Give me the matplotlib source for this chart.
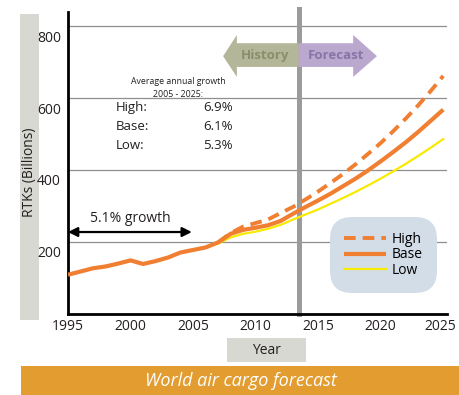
import matplotlib
matplotlib.use('Agg')
import matplotlib.pyplot as plt
import matplotlib.transforms as mtransforms
from matplotlib.patches import Rectangle, Polygon

plt.rcParams['font.family'] = ['Open Sans', 'DejaVu Sans']

# RTKs in billions
years = list(range(1995, 2026))
base = [108, 117, 126, 131, 139, 148, 138, 146, 156, 170, 177, 184, 198,
        222, 233, 239, 246, 258, 278,
        297, 315, 334, 355, 376, 399, 424, 450, 477, 506, 537, 568]
split_years = list(range(2007, 2026))
high = [198, 224, 242, 252, 262, 280, 297,
        318, 340, 364, 389, 416, 445, 475, 508, 543, 580, 620, 662]
low = [195, 212, 222, 228, 236, 247, 262,
       276, 290, 306, 322, 339, 357, 376, 396, 417, 439, 462, 486]

growth_labels = ['High:', 'Base:', 'Low:']
growth_rates = ['6.9%', '6.1%', '5.3%']
forecast_start = 2013.45

ORANGE = '#f07f32'
YELLOW = '#f8ea00'
BAND = '#d8d8d3'
TXT = '#231f20'
W, H = 459, 395


def px_rect(x0, y0, x1, y1, **kw):
    # rectangle given in pixel coords measured from the top-left
    return Rectangle((x0 / W, 1 - y1 / H), (x1 - x0) / W, (y1 - y0) / H,
                     transform=fig.transFigure, **kw)


fig = plt.figure(figsize=(W / 100, H / 100), dpi=100)
ax = fig.add_axes([68 / W, 1 - 313.5 / H, (447 - 68) / W, (313.5 - 12) / H])

# grey side band, year box and the title bar
fig.add_artist(px_rect(20, 14, 39, 320, color=BAND, lw=0, zorder=-1))
fig.add_artist(px_rect(227, 338, 306, 362, color=BAND, lw=0, zorder=-1))
fig.add_artist(px_rect(21, 366, W, H, color='#e29c2f', lw=0, zorder=-1))
fig.text(30 / W, 1 - 172 / H, 'RTKs (Billions)', rotation=90, ha='center', va='center',
         fontsize=10, color=TXT)
fig.text(266 / W, 1 - 350 / H, 'Year', ha='center', va='center', fontsize=10, color=TXT)
fig.text(241 / W, 1 - 381 / H, 'World air cargo forecast', ha='center', va='center',
         fontsize=13, style='italic', color='white')

ax.set_xlim(1995, 2025.3)
ax.set_ylim(0, 840)
ax.set_xticks([1995, 2000, 2005, 2010, 2015, 2020, 2025])
ax.set_yticks([200, 400, 600, 800])
ax.tick_params(length=0, labelsize=10, colors=TXT)
ax.tick_params(axis='x', pad=4)
ax.tick_params(axis='y', pad=5)
ax.yaxis.grid(True, color='#8f8f8f', lw=0.9)
ax.set_axisbelow(True)
for s in ['top', 'right']:
    ax.spines[s].set_visible(False)
for s in ['left', 'bottom']:
    ax.spines[s].set_linewidth(2)
    ax.spines[s].set_color('black')

# y labels sit a little under their gridlines
offset = mtransforms.ScaledTranslation(0, -10 / 100, fig.dpi_scale_trans)
for lbl in ax.get_yticklabels():
    lbl.set_transform(lbl.get_transform() + offset)
# keep the last year label inside the figure
xoff = mtransforms.ScaledTranslation(-3 / 100, 0, fig.dpi_scale_trans)
ax.get_xticklabels()[-1].set_transform(ax.get_xticklabels()[-1].get_transform() + xoff)

ax.axvline(forecast_start, color='#9b9b9b', lw=3.6, zorder=1, ymax=1.01, clip_on=False)

# history / forecast arrows
ax.add_patch(Polygon([(2007.4, 717), (2008.5, 776), (2008.5, 753), (forecast_start, 753),
                      (forecast_start, 687), (2008.5, 687), (2008.5, 659)],
                     closed=True, color='#b4b699', lw=0, zorder=2))
ax.add_patch(Polygon([(forecast_start, 753), (2017.8, 753), (2017.8, 776), (2019.7, 717),
                      (2017.8, 659), (2017.8, 687), (forecast_start, 687)],
                     closed=True, color='#baa8cf', lw=0, zorder=2))
ax.text(2010.75, 718, 'History', ha='center', va='center', fontsize=9.5,
        fontweight='bold', color='#8b8e6b', zorder=3)
ax.text(2016.4, 718, 'Forecast', ha='center', va='center', fontsize=9.5,
        fontweight='bold', color='#8a74a8', zorder=3)

# growth notes
ax.text(2003.8, 645, 'Average annual growth', ha='center', va='center', fontsize=6.3, color=TXT)
ax.text(2003.8, 609, '2005 - 2025:', ha='center', va='center', fontsize=6.3, color=TXT)
for i, (lab, rate) in enumerate(zip(growth_labels, growth_rates)):
    yv = 575 - i * 53
    ax.text(1998.85, yv, lab, ha='left', va='center', fontsize=9.5, color=TXT)
    ax.text(2008.2, yv, rate, ha='right', va='center', fontsize=9.5, color=TXT)

ax.annotate('', xy=(1995, 227), xytext=(2004.9, 227),
            arrowprops=dict(arrowstyle='<|-|>', color='black', lw=1.6, mutation_scale=14,
                            shrinkA=0, shrinkB=0))
ax.text(2000.0, 266, '5.1% growth', ha='center', va='center', fontsize=10, color=TXT)

# scenario lines
ax.plot(split_years, low, color=YELLOW, lw=1.6, label='Low', zorder=4)
ax.plot(split_years, high, color=ORANGE, lw=2.8, dashes=(3, 1.8), label='High', zorder=4)
ax.plot(years, base, color=ORANGE, lw=3, label='Base', zorder=5, solid_capstyle='butt')

handles, labels = ax.get_legend_handles_labels()
order = [1, 2, 0]
leg = ax.legend([handles[i] for i in order], [labels[i] for i in order],
                loc='center', bbox_to_anchor=(2020.2, 163), bbox_transform=ax.transData,
                fontsize=10, handlelength=3.0, handletextpad=0.4, labelspacing=0.05,
                borderpad=0.75, frameon=True, fancybox=True)
frame = leg.get_frame()
frame.set_facecolor('#d3dde8')
frame.set_edgecolor('none')
frame.set_alpha(1)
frame.set_boxstyle('round', pad=0.3, rounding_size=1.6)
leg.set_zorder(6)

fig.savefig('out.png', dpi=100)
